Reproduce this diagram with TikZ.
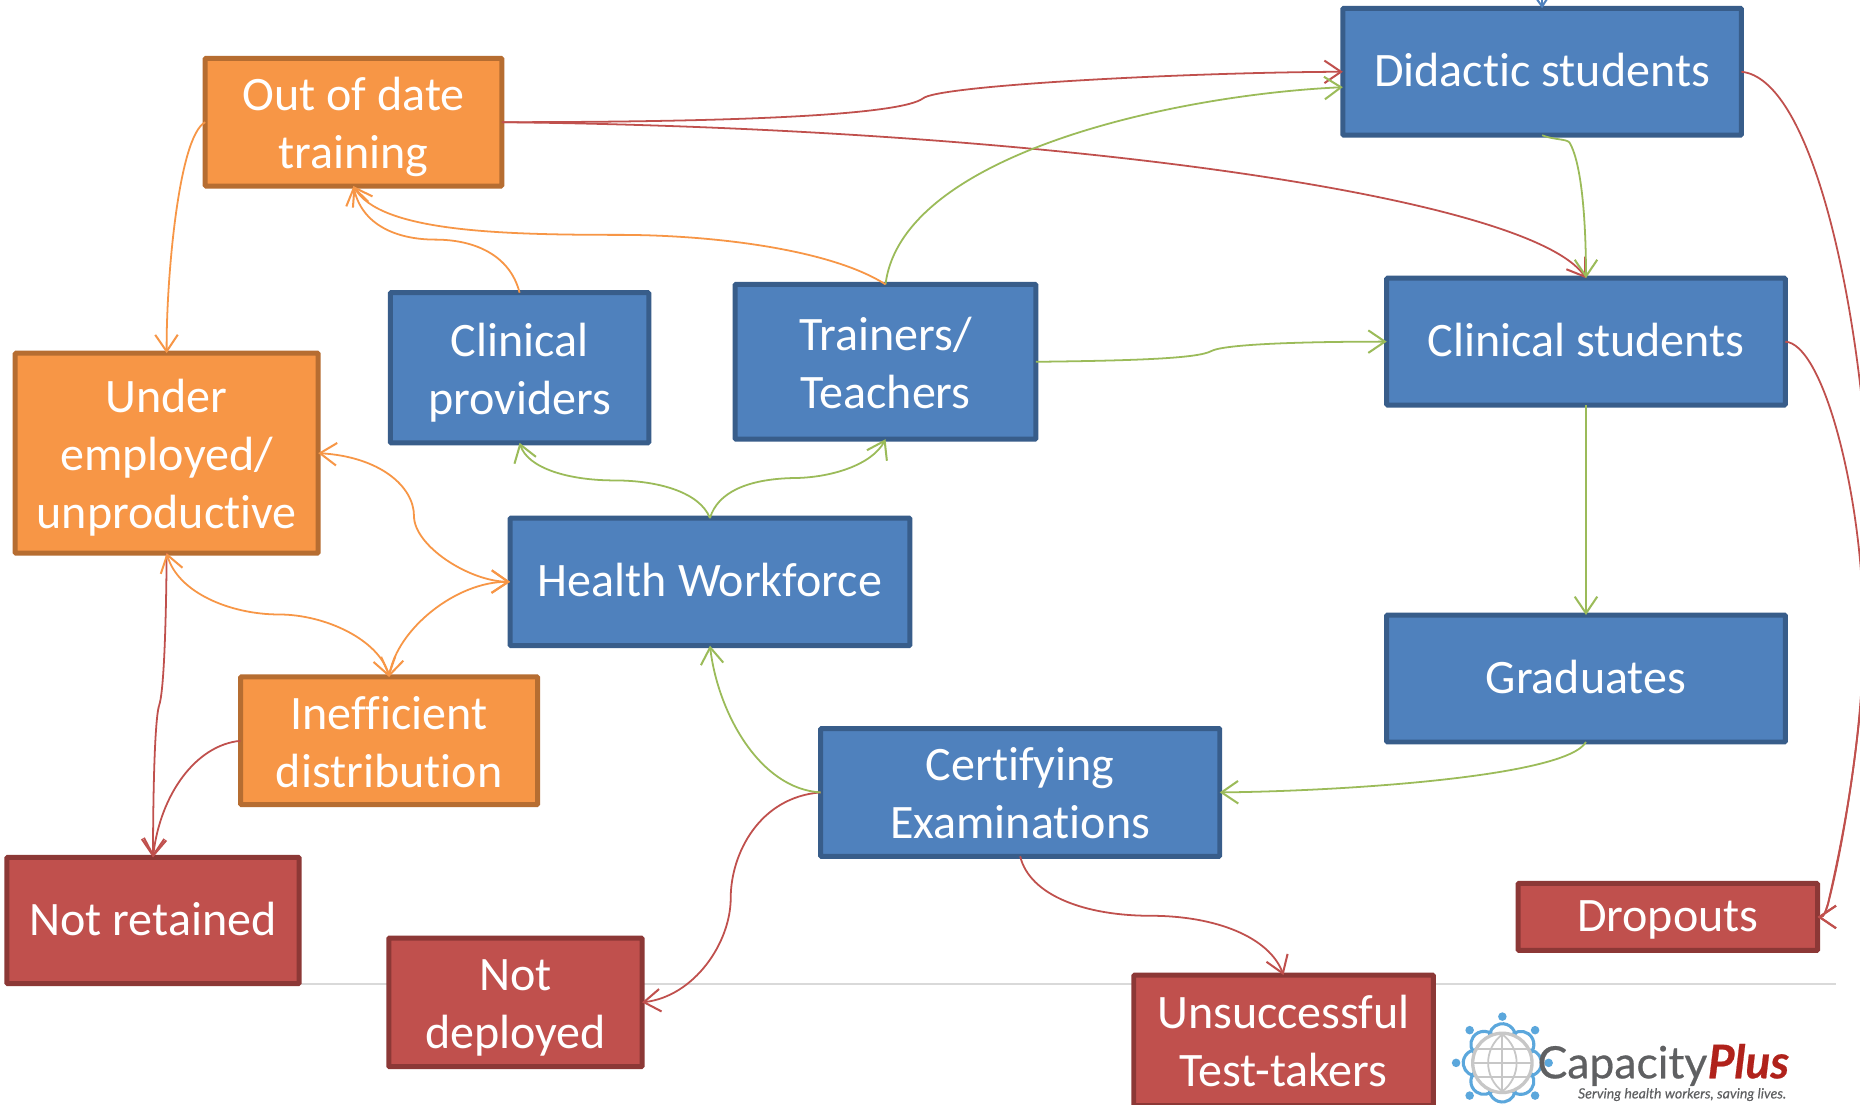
\documentclass[tikz,border=0pt]{standalone}
\usepackage{fontspec}
\setmainfont[Ligatures=NoCommon]{Carlito}
\newfontfamily\logofont[FakeBold=0.5]{Lato}
\newfontfamily\logotag[FakeBold=0.15]{Lato}
\usetikzlibrary{arrows.meta}
\newcommand{\lifttext}{\rule{0pt}{44pt}}
\definecolor{bfill}{HTML}{4F81BD}\definecolor{bline}{HTML}{385D8A}
\definecolor{ofill}{HTML}{F79646}\definecolor{oline}{HTML}{B66D31}
\definecolor{rfill}{HTML}{C0504D}\definecolor{rline}{HTML}{8C3836}
\definecolor{gline}{HTML}{9BBB59}\definecolor{logoblue}{HTML}{5BA7DC}
\definecolor{logogray}{HTML}{5F6062}\definecolor{logored}{HTML}{B0221B}
\tikzset{
 boxbase/.style={draw,line width=4.2pt,rounded corners=0.8pt,align=center,text=white,outer sep=0pt,inner sep=0pt,
   font=\fontsize{40.5}{49}\selectfont,execute at end node=\strut},
 oneline/.style={execute at begin node={\rule{0pt}{39.6pt}}},
 bluebox/.style={boxbase,fill=bfill,draw=bline},
 orangebox/.style={boxbase,fill=ofill,draw=oline},
 redbox/.style={boxbase,fill=rfill,draw=rline},
 sized/.style n args={2}{minimum width=#1,minimum height=#2},
 conn/.style={line width=1.5pt,-{Straight Barb[length=14pt,width=19pt,line width=1.7pt]}},
 both/.style={line width=1.5pt,{Straight Barb[length=14pt,width=19pt,line width=1.7pt]}-{Straight Barb[length=14pt,width=19pt,line width=1.7pt]}},
 plain/.style={line width=1.5pt},
}
\begin{document}
\begin{tikzpicture}[x=1pt,y=-1pt]
\useasboundingbox (0,0) rectangle (1568,931);
\clip (0,0) rectangle (1568,931);
\fill[white] (0,0) rectangle (1568,931);
\draw[line width=1.8pt,draw=black!15] (254,829.5) -- (1548,829.5);

\node[bluebox,oneline,sized={336pt}{107pt}] (did) at (1300,60.5) {Didactic students};
\node[orangebox,sized={250pt}{106.5pt}] (out) at (298,103) {\lifttext Out of date\\training};
\node[bluebox,oneline,sized={336pt}{107pt}] (cli) at (1337,288) {Clinical students};
\node[bluebox,sized={218pt}{126.5pt}] (prov) at (438,310) {\lifttext Clinical\\providers};
\node[bluebox,sized={253.5pt}{130.5pt}] (tra) at (746.5,305) {\lifttext Trainers/\\Teachers};
\node[orangebox,sized={255.5pt}{168.5pt}] (und) at (140.5,382) {\lifttext Under\\employed/\\unproductive};
\node[bluebox,oneline,sized={337pt}{107.5pt}] (hw) at (598.5,490.5) {Health Workforce};
\node[bluebox,oneline,sized={336pt}{107pt}] (gra) at (1337,572) {Graduates};
\node[orangebox,sized={250.5pt}{107.5pt}] (ine) at (328,624.5) {\lifttext Inefficient\\distribution};
\node[bluebox,sized={336.5pt}{106.5pt}] (cer) at (860,668) {\lifttext Certifying\\Examinations};
\node[redbox,oneline,sized={246.5pt}{106.5pt}] (ret) at (129,776) {Not retained};
\node[redbox,sized={213.5pt}{108.5pt}] (dep) at (434.5,845) {\lifttext Not\\deployed};
\node[redbox,sized={252.5pt}{110pt}] (uns) at (1082,877) {\lifttext Unsuccessful\\Test-takers};
\node[redbox,oneline,sized={252.5pt}{56.5pt}] (dro) at (1406,773) {Dropouts};

% top stub
\coordinate (topin) at (1299.5,-20);
\draw[conn,draw=bfill] (topin) -- (did.north);

% red
\draw[conn,draw=rfill] (out.east) .. controls (640,103) and (760,96) .. (778,83) .. controls (790,72) and (1000,61) .. (did.west);
\draw[conn,draw=rfill] (out.east) .. controls (880,108) and (1290,165) .. (cli.north);
\draw[conn,draw=rfill] (did.east) .. controls (1525,66) and (1565,240) .. (1575,400) .. controls (1582,530) and (1560,690) .. (1541,762) .. controls (1539,768) and (1538,773) .. (dro.east);
\draw[conn,draw=rfill] (cli.east) .. controls (1535,290) and (1565,400) .. (1570,500) .. controls (1575,600) and (1555,700) .. (1541,762) .. controls (1539,768) and (1538,773) .. (dro.east);
\draw[plain,draw=rfill] (und.south) .. controls (140,530) and (138,585) .. (134,595);
\draw[conn,draw=rfill] (134,595) .. controls (130,610) and (129,680) .. (ret.north);
\draw[conn,draw=rfill] (ine.west) .. controls (165,628) and (135,670) .. (ret.north);
\draw[conn,draw=rfill] (cer.west) .. controls (640,672) and (616,720) .. (616,757) .. controls (616,795) and (585,840) .. (dep.east);
\draw[conn,draw=rfill] (cer.south) .. controls (868,755) and (915,772) .. (970,772) .. controls (1025,772) and (1070,790) .. (uns.north);

% green
\draw[conn,draw=gline] (did.south) .. controls (1310,118) and (1320,117) .. (1323,120) .. controls (1335,140) and (1337,200) .. (cli.north);
\draw[conn,draw=gline] (tra.north) .. controls (760,130) and (990,80) .. ([yshift=-13pt]did.west);
\draw[conn,draw=gline] (tra.east) .. controls (960,304) and (1010,302) .. (1021,296) .. controls (1032,290) and (1100,288) .. (cli.west);
\draw[conn,draw=gline] (cli.south) -- (gra.north);
\draw[conn,draw=gline] (gra.south) .. controls (1320,655) and (1130,667) .. (cer.east);
\draw[conn,draw=gline] (cer.west) .. controls (640,665) and (605,600) .. (hw.south);
\draw[conn,draw=gline] (hw.north) .. controls (590,415) and (555,405) .. (518,405) .. controls (480,405) and (445,395) .. (prov.south);
\draw[conn,draw=gline] (hw.north) .. controls (605,415) and (630,404) .. (668,403) .. controls (700,403) and (735,392) .. (tra.south);

% orange
\draw[conn,draw=ofill] (prov.north) .. controls (430,215) and (400,202) .. (367,202) .. controls (335,202) and (305,190) .. (out.south);
\draw[conn,draw=ofill] (tra.north) .. controls (700,210) and (600,198) .. (522,198) .. controls (420,198) and (320,195) .. (out.south);
\draw[conn,draw=ofill] (out.west) .. controls (150,115) and (140,240) .. (und.north);
\draw[both,draw=ofill] (und.east) .. controls (320,385) and (349,410) .. (349,435) .. controls (349,460) and (395,490) .. (hw.west);
\draw[both,draw=ofill] (hw.west) .. controls (385,490) and (335,530) .. (ine.north);
\draw[both,draw=ofill] (und.south) .. controls (150,500) and (195,518) .. (235,518) .. controls (275,518) and (320,540) .. (ine.north);

% logo
\foreach \a in {0,45,...,315}{
  \begin{scope}[shift={(1266.5,896)},rotate=\a]
    \draw[logoblue,line width=2.6pt,shift={(0,-22)}] (190:11pt) arc[start angle=190,end angle=-10,radius=11pt];
    \fill[logoblue] (0,-39) circle[radius=3.6pt];
  \end{scope}
}
\begin{scope}[shift={(1266.5,896)}]
  \draw[black!22,line width=2.8pt,fill=white] (0,0) circle[radius=25pt];
  \draw[black!22,line width=1.5pt] (-24,0) -- (24,0) (-21,-12) -- (21,-12) (-21,12) -- (21,12) (0,-24) -- (0,24);
  \draw[black!22,line width=1.5pt] (0,-24) .. controls (-16,-12) and (-16,12) .. (0,24);
  \draw[black!22,line width=1.5pt] (0,-24) .. controls (16,-12) and (16,12) .. (0,24);
\end{scope}
\node[anchor=base west,inner sep=0pt,text=logogray,font=\logofont\fontsize{37.5}{37}\selectfont] (capa) at (1296,909) {Capacity};
\node[anchor=base west,inner sep=0pt,text=logored,font=\logofont\bfseries\itshape\fontsize{39}{39}\selectfont] (plus) at (capa.base east) {Plus};
\node[anchor=base east,inner sep=0pt,text=logogray,font=\logotag\itshape\fontsize{11.9}{13}\selectfont] (tag) at (1506,926) {Serving health workers, saving lives.};
\end{tikzpicture}
\end{document}
